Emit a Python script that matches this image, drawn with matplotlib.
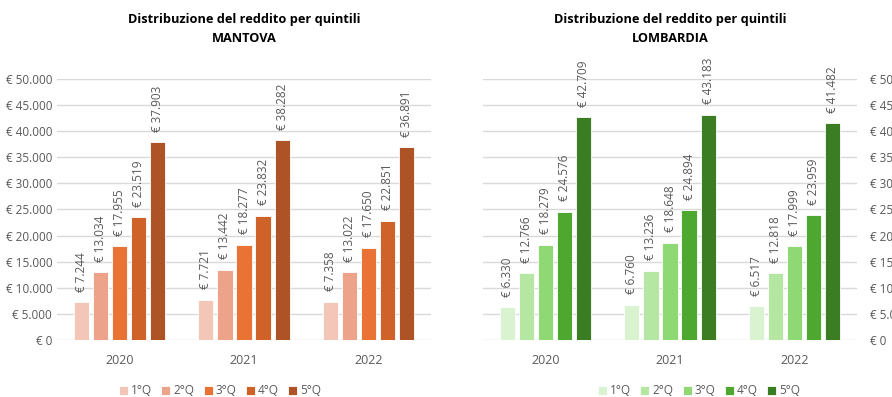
import numpy as np
import matplotlib
matplotlib.use("Agg")
import matplotlib.pyplot as plt

plt.rcParams["font.family"] = ["Open Sans", "DejaVu Sans"]

years = ["2020", "2021", "2022"]
quintiles = ["1°Q", "2°Q", "3°Q", "4°Q", "5°Q"]

mantova = [
    [7244, 7721, 7358],
    [13034, 13442, 13022],
    [17955, 18277, 17650],
    [23519, 23832, 22851],
    [37903, 38282, 36891],
]
lombardia = [
    [6330, 6760, 6517],
    [12766, 13236, 12818],
    [18279, 18648, 17999],
    [24576, 24894, 23959],
    [42709, 43183, 41482],
]

colors_mn = ["#F4C6B7", "#EDA28A", "#E97334", "#CF6229", "#AE5325"]
colors_lo = ["#D9F2D0", "#B5E6A2", "#8ED973", "#4EA72E", "#3B7D23"]

GRAY = "#595959"


def euro(v):
    return "€ " + f"{v:,.0f}".replace(",", ".")


def draw(ax, data, colors, title, right=False):
    x = np.arange(len(years))
    step = 0.153
    width = 0.122
    handles = []
    for i, (vals, c) in enumerate(zip(data, colors)):
        pos = x + (i - 2) * step
        bars = ax.bar(pos, vals, width=width, color=c, edgecolor="white",
                      linewidth=0.6, zorder=3, label=quintiles[i])
        handles.append(bars)
        for b, v in zip(bars, vals):
            ax.annotate(euro(v), (b.get_x() + b.get_width() / 2, v),
                        xytext=(0, 7.5), textcoords="offset points",
                        rotation=90, ha="center", va="bottom",
                        fontsize=8.5, color=GRAY)
    ax.set_xlim(-0.5, 2.5)
    ax.set_ylim(0, 50000)
    ax.set_yticks(np.arange(0, 50001, 5000))
    ax.set_yticklabels([euro(v) for v in np.arange(0, 50001, 5000)])
    ax.set_xticks(x)
    ax.set_xticklabels(years)
    ax.grid(axis="y", color="#D9D9D9", linewidth=1, zorder=0)
    for s in ax.spines.values():
        s.set_visible(False)
    ax.tick_params(axis="both", length=0, colors=GRAY, labelsize=8.5)
    ax.tick_params(axis="x", pad=10, labelsize=9)
    if right:
        ax.yaxis.tick_right()
        ax.tick_params(axis="y", pad=9)
    ax.set_title(title, fontsize=9.2, fontweight="bold", color="black",
                 linespacing=1.55, pad=27)
    return handles


fig = plt.figure(figsize=(8.92, 3.97), dpi=100)
ax1 = fig.add_axes([0.0639, 0.1436, 0.4193, 0.6574])
ax2 = fig.add_axes([0.5415, 0.1436, 0.4193, 0.6574])

h1 = draw(ax1, mantova, colors_mn, "Distribuzione del reddito per quintili\nMANTOVA")
h2 = draw(ax2, lombardia, colors_lo, "Distribuzione del reddito per quintili\nLOMBARDIA", right=True)

for h, cx in [(h1, 220 / 892), (h2, 699 / 892)]:
    leg = fig.legend(h, quintiles, loc="center", bbox_to_anchor=(cx, 1 - 391 / 397),
                     ncol=5, frameon=False, fontsize=8.5, handlelength=0.75,
                     handleheight=0.75, handletextpad=0.25, columnspacing=0.8,
                     borderpad=0)
    for t in leg.get_texts():
        t.set_color(GRAY)

fig.savefig("out.png", dpi=100)
